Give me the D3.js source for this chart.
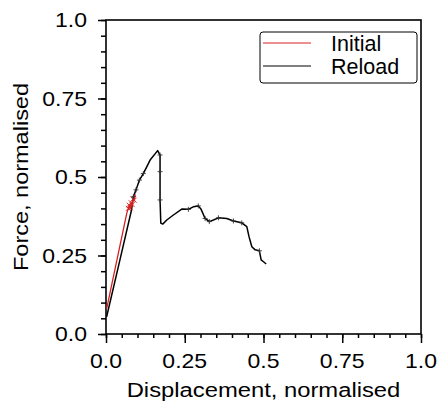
<!DOCTYPE html>
<html>
<head>
<meta charset="utf-8">
<script src="https://cdn.jsdelivr.net/npm/d3@7"></script>
<style>
	body { margin: 0; background: #fff; }
	text { font-family: "Liberation Sans", Arial, sans-serif; fill: #000; }
</style>
</head>
<body>
<div id="viz-container"></div>
<script>
// displacement / force pairs, both normalised
var reloadDisp  = [0.002, 0.040, 0.081, 0.0868, 0.0953, 0.106, 0.1185, 0.140, 0.164, 0.1716, 0.1716, 0.1716, 0.174, 0.180, 0.193, 0.214, 0.2405, 0.2615, 0.277, 0.293, 0.302, 0.3146, 0.328, 0.341, 0.357, 0.3835, 0.4045, 0.431, 0.447, 0.454, 0.463, 0.4735, 0.487, 0.4925, 0.500, 0.5085];
var reloadForce = [0.055, 0.218, 0.395, 0.437, 0.459, 0.490, 0.511, 0.554, 0.584, 0.570, 0.517, 0.427, 0.353, 0.350, 0.363, 0.379, 0.398, 0.397, 0.405, 0.408, 0.397, 0.368, 0.358, 0.363, 0.370, 0.368, 0.360, 0.354, 0.342, 0.310, 0.278, 0.268, 0.265, 0.236, 0.230, 0.223];
var reloadMarks = [3, 4, 5, 6, 9, 10, 11, 17, 19, 21, 22, 24, 26, 27, 32];

var initialDisp  = [0.002, 0.066, 0.071, 0.074, 0.077, 0.080, 0.083, 0.086, 0.089, 0.093];
var initialForce = [0.080, 0.385, 0.400, 0.410, 0.402, 0.418, 0.412, 0.430, 0.426, 0.445];
var initialMarks = [2, 3, 4, 5, 6, 7, 8];

var majorTicks = [0, 0.25, 0.5, 0.75, 1.0];
var tickLabels = ['0.0', '0.25', '0.5', '0.75', '1.0'];
var minorTicks = d3.range(0, 1.0001, 0.05);

var seriesNames = ['Initial', 'Reload'];
var seriesColors = ['#d62020', '#000'];

function zip(xs, ys) {
	return xs.map(function(d, i) {return [d, ys[i]];});
}

function init() {
	var svg = d3.select('#viz-container').append('svg')
		.attr('width', 439)
		.attr('height', 406);

	var margin = {top: 20, right: 18, bottom: 72, left: 106},
	    width = 439 - margin.left - margin.right,
	    height = 406 - margin.top - margin.bottom;

	var x = d3.scaleLinear().domain([0, 1]).range([margin.left, margin.left + width]);
	var y = d3.scaleLinear().domain([0, 1]).range([margin.top + height, margin.top]);

	// frame
	svg.append('rect')
		.attr('x', x(0)).attr('y', y(1))
		.attr('width', x(1) - x(0)).attr('height', y(0) - y(1))
		.attr('fill', 'none').attr('stroke', '#000').attr('stroke-width', 1.6);

	// ticks
	function ticks(axis, vals, size) {
		return axis.tickValues(vals).tickSize(size).tickFormat('');
	}
	[[minorTicks, 4], [majorTicks, 9]].forEach(function(t) {
		var gx = svg.append('g')
			.attr('transform', 'translate(0,' + y(0) + ')')
			.call(ticks(d3.axisBottom(x), t[0], t[1]));
		var gy = svg.append('g')
			.attr('transform', 'translate(' + x(0) + ',0)')
			.call(ticks(d3.axisLeft(y), t[0], t[1] === 9 ? 8 : 5));
		[gx, gy].forEach(function(g) {
			g.select('.domain').remove();
			g.selectAll('line').attr('stroke', '#000').attr('stroke-width', 1.5);
		});
	});

	// tick labels (slightly wide lettering as in the original)
	svg.append('g').selectAll('text')
		.data(majorTicks)
		.enter().append('text')
		.attr('transform', function(d) {return 'translate(' + x(d) + ',368) scale(1.15,1)';})
		.attr('text-anchor', 'middle')
		.style('font-size', '20px')
		.text(function(d, i) {return tickLabels[i];});

	svg.append('g').selectAll('text')
		.data(majorTicks)
		.enter().append('text')
		.attr('transform', function(d) {return 'translate(87,' + y(d) + ') scale(1.15,1)';})
		.attr('text-anchor', 'end')
		.attr('dy', '0.36em')
		.style('font-size', '20px')
		.text(function(d, i) {return tickLabels[i];});

	svg.append('text')
		.attr('transform', 'translate(' + (margin.left + width / 2) + ',397) scale(1.19,1)')
		.attr('text-anchor', 'middle')
		.style('font-size', '20px')
		.text('Displacement, normalised');

	svg.append('text')
		.attr('transform', 'translate(28,' + (margin.top + height / 2) + ') rotate(-90) scale(1.175,1)')
		.attr('text-anchor', 'middle')
		.style('font-size', '20px')
		.text('Force, normalised');

	// curves
	var line = d3.line()
		.x(function(d) {return x(d[0]);})
		.y(function(d) {return y(d[1]);});

	var reload = zip(reloadDisp, reloadForce),
	    initial = zip(initialDisp, initialForce);

	svg.append('path').datum(reload)
		.attr('d', line)
		.attr('fill', 'none').attr('stroke', seriesColors[1]).attr('stroke-width', 1.5)
		.attr('stroke-linejoin', 'round');

	svg.append('path').datum(initial)
		.attr('d', line)
		.attr('fill', 'none').attr('stroke', seriesColors[0]).attr('stroke-width', 1.3);

	// point markers
	svg.append('g').selectAll('path')
		.data(initialMarks.map(function(i) {return initial[i];}))
		.enter().append('path')
		.attr('d', 'M-2.5,-2.5L2.5,2.5M-2.5,2.5L2.5,-2.5')
		.attr('transform', function(d) {return 'translate(' + x(d[0]) + ',' + y(d[1]) + ')';})
		.attr('fill', 'none').attr('stroke', seriesColors[0]).attr('stroke-width', 0.9);

	svg.append('g').selectAll('path')
		.data(reloadMarks.map(function(i) {return reload[i];}))
		.enter().append('path')
		.attr('d', 'M-2.5,0H2.5M0,-2.5V2.5')
		.attr('transform', function(d) {return 'translate(' + x(d[0]) + ',' + y(d[1]) + ')';})
		.attr('fill', 'none').attr('stroke', '#333').attr('stroke-width', 0.9);

	// legend
	var lg = svg.append('g');
	lg.append('rect')
		.attr('x', 260).attr('y', 32)
		.attr('width', 157).attr('height', 51)
		.attr('rx', 3)
		.attr('fill', '#fff').attr('stroke', '#000').attr('stroke-width', 1);

	lg.selectAll('line')
		.data(seriesNames)
		.enter().append('line')
		.attr('x1', 263).attr('x2', 311)
		.attr('y1', function(d, i) {return 43 + i * 23;})
		.attr('y2', function(d, i) {return 43 + i * 23;})
		.attr('stroke', function(d, i) {return seriesColors[i];})
		.attr('stroke-width', 1);

	lg.selectAll('text')
		.data(seriesNames)
		.enter().append('text')
		.attr('x', 331)
		.attr('y', function(d, i) {return 51 + i * 23;})
		.style('font-size', '21.5px')
		.text(function(d) {return d;});
}

init();
</script>
</body>
</html>
